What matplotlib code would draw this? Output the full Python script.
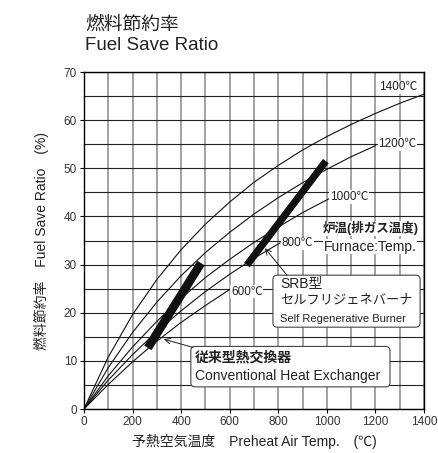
import matplotlib
matplotlib.use("Agg")
import matplotlib.pyplot as plt
from matplotlib.patches import FancyBboxPatch

plt.rcParams['font.family'] = ['Liberation Sans', 'Noto Sans CJK JP']

# furnace temperature curves (preheat air temp -> fuel save ratio %)
x_1400 = [0, 100, 200, 300, 400, 500, 600, 700, 800, 900, 1000, 1100, 1200, 1300, 1400]
y_1400 = [0, 10.8, 19.6, 26.9, 33.1, 38.4, 43.0, 47.1, 50.6, 53.8, 56.6, 59.1, 61.4, 63.5, 65.4]
x_1200 = [0, 100, 200, 300, 400, 500, 600, 700, 800, 900, 1000, 1100, 1200]
y_1200 = [0, 8.6, 15.9, 22.2, 27.7, 32.5, 36.7, 40.5, 43.9, 47.0, 49.8, 52.4, 54.7]
x_1000 = [0, 100, 200, 300, 400, 500, 600, 700, 800, 900, 1010]
y_1000 = [0, 6.9, 12.9, 18.2, 23.0, 27.3, 31.1, 34.6, 37.8, 40.8, 43.7]
x_800 = [0, 100, 200, 300, 400, 500, 600, 700, 807]
y_800 = [0, 6.0, 11.3, 16.1, 20.4, 24.4, 28.0, 31.3, 34.5]
x_600 = [0, 100, 200, 300, 400, 500, 608]
y_600 = [0, 5.1, 9.8, 14.1, 18.0, 21.5, 25.1]

# thick bands
conv_x = [263, 482]
conv_y = [12.7, 30.3]
srb_x = [671, 996]
srb_y = [29.9, 51.5]

curve_labels = ["1400℃", "1200℃", "1000℃", "800℃", "600℃"]
label_pos = [(1295, 66.8), (1291, 55.0), (1091, 44.1), (879, 34.4), (670, 24.4)]

fig = plt.figure(figsize=(4.39, 4.53), dpi=100)
ax = fig.add_axes([0.1913, 0.0971, 0.7745, 0.7439])

ax.set_xlim(0, 1400)
ax.set_ylim(0, 70)
ax.set_xticks(range(0, 1401, 200))
ax.set_xticks(range(0, 1401, 100), minor=True)
ax.set_yticks(range(0, 71, 10))
ax.set_yticks(range(0, 71, 5), minor=True)
ax.xaxis.grid(which='both', color='#8a8a8a', lw=1.1, zorder=0)
ax.yaxis.grid(which='both', color='#222222', lw=0.8, zorder=0)
ax.set_axisbelow(True)
ax.tick_params(which='major', length=3, width=0.8, labelsize=8.5, labelcolor='#333333', pad=2)
ax.tick_params(which='minor', length=0)
for s in ax.spines.values():
    s.set_linewidth(1.0)

for xs, ys in [(x_1400, y_1400), (x_1200, y_1200), (x_1000, y_1000), (x_800, y_800), (x_600, y_600)]:
    ax.plot(xs, ys, color='#111111', lw=0.8, zorder=2)

ax.plot(conv_x, conv_y, color='#111111', lw=6.2, solid_capstyle='butt', zorder=3)
ax.plot(srb_x, srb_y, color='#111111', lw=5.2, solid_capstyle='butt', zorder=3)

for txt, (lx, ly) in zip(curve_labels, label_pos):
    ax.text(lx, ly, txt, fontsize=8.5, color='#222222', ha='center', va='center', zorder=4,
            bbox=dict(facecolor='white', edgecolor='none', pad=0.6))

ax.text(1181, 37.5, "炉温(排ガス温度)", fontsize=9, fontweight='bold', color='#222222',
        ha='center', va='center', zorder=4, bbox=dict(facecolor='white', edgecolor='none', pad=0.5))
ax.text(1179, 33.7, "Furnace:Temp.", fontsize=10, color='#222222',
        ha='center', va='center', zorder=4, bbox=dict(facecolor='white', edgecolor='none', pad=0.5))

# SRB box
ax.add_patch(FancyBboxPatch((778, 17.0), 606, 10.8, boxstyle="round,pad=0,rounding_size=18",
                            mutation_aspect=0.05, facecolor='white', edgecolor='#444444', lw=0.8, zorder=5))
ax.text(807, 26.1, "SRB型", fontsize=10, color='#222222', va='center', zorder=6)
ax.text(807, 22.5, "セルフリジェネバーナ", fontsize=9.5, color='#222222', va='center', zorder=6)
ax.text(807, 18.8, "Self Regenerative Burner", fontsize=8, color='#222222', va='center', zorder=6)
ax.annotate("", xy=(745, 33.4), xytext=(836, 27.8),
            arrowprops=dict(arrowstyle='->', color='#222222', lw=0.7, shrinkA=0, shrinkB=0), zorder=6)

# conventional box
ax.add_patch(FancyBboxPatch((440, 4.6), 820, 8.4, boxstyle="round,pad=0,rounding_size=18",
                            mutation_aspect=0.05, facecolor='white', edgecolor='#444444', lw=0.8, zorder=5))
ax.text(457, 10.8, "従来型熱交換器", fontsize=10, fontweight='bold', color='#222222', va='center', zorder=6)
ax.text(457, 6.9, "Conventional Heat Exchanger", fontsize=10, color='#222222', va='center', zorder=6)
ax.annotate("", xy=(329, 14.5), xytext=(449, 12.8),
            arrowprops=dict(arrowstyle='->', color='#222222', lw=0.7, shrinkA=0, shrinkB=0), zorder=6)

ax.set_xlabel("予熱空気温度　Preheat Air Temp.　(℃)", fontsize=10, color='#222222', labelpad=4)
ax.set_ylabel("燃料節約率　Fuel Save Ratio　(%)", fontsize=10, color='#222222', labelpad=11)

fig.text(85 / 439, 1 - 25 / 453, "燃料節約率", fontsize=13.5, color='#222222', va='center')
fig.text(85 / 439, 1 - 45 / 453, "Fuel Save Ratio", fontsize=13.5, color='#222222', va='center')

fig.savefig("out.png", dpi=100)
